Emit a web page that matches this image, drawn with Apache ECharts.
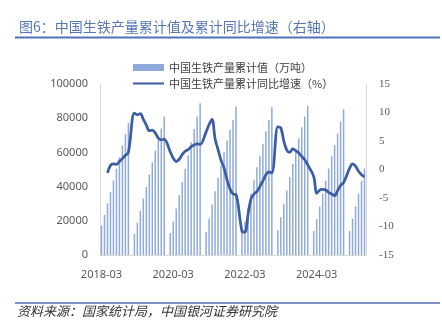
<!DOCTYPE html>
<html><head><meta charset="utf-8">
<script src="https://cdn.jsdelivr.net/npm/echarts@6/dist/echarts.min.js"></script>
<style>html,body{margin:0;padding:0;background:#fff}#c{width:442px;height:324px}</style>
</head><body><div id="c"></div>
<script>
// Categories: monthly, 2018-03 .. 2025-07 (January has no separate data)
const startYear = 2018, startMonth = 3, endYear = 2025, endMonth = 7;
const categories = [];
for (let y = startYear; y <= endYear; y++) {
  for (let m = (y === startYear ? startMonth : 1); m <= (y === endYear ? endMonth : 12); m++) {
    categories.push(y + '-' + (m < 10 ? '0' + m : m));
  }
}
const xTickLabels = ['2018-03', '2020-03', '2022-03', '2024-03'];

// 中国生铁产量累计值（万吨）
const output2018 = [17300, 23500, 30200, 36800, 43600, 50400, 57100, 64100, 70700, 77105]; // Mar-Dec
const output2019 = [null, 12300, 18900, 25800, 33000, 39800, 47000, 54300, 61100, 67200, 73900, 80937];
const output2020 = [null, 12900, 19600, 27200, 34900, 42700, 50400, 58200, 65900, 73700, 81000, 88752];
const output2021 = [null, 13600, 21400, 29600, 37300, 45000, 52400, 60100, 67000, 73200, 79000, 86857];
const output2022 = [null, 13400, 19600, 27600, 35900, 43700, 51300, 57800, 65000, 72400, 79000, 86383];
const output2023 = [null, 14500, 22100, 29800, 37700, 45600, 53200, 60900, 68100, 74700, 81000, 87101];
const output2024 = [null, 14000, 21000, 28300, 35700, 43400, 50600, 57700, 64300, 71000, 78100, 85174];
const output2025 = [null, 14000, 21200, 28500, 35900, 43500, 50600]; // Jan-Jul

// 中国生铁产量累计同比增速（%）
const growth2018 = [null, null, -0.6, 0.7, 1.0, 0.9, 1.4, 1.9, 2.5, 3.0]; // Mar-Dec
const growth2019 = [null, 9.9, 9.6, 9.8, 8.8, 7.8, 6.8, 6.9, 6.4, 5.5, 5.2, 5.3];
const growth2020 = [null, 3.1, 2.0, 1.4, 1.8, 2.6, 3.2, 3.5, 4.0, 4.3, 4.5, 4.4];
const growth2021 = [null, 6.6, 7.9, 8.8, 5.4, 3.5, 1.6, 0.3, -1.8, -3.4, -4.3, -4.4];
const growth2022 = [null, -10.8, -11.0, -8.0, -5.2, -4.3, -3.9, -3.0, -2.0, -0.9, -0.4, -0.6];
const growth2023 = [null, 7.5, 7.3, 5.0, 3.4, 3.0, 3.6, 3.3, 2.9, 2.3, 1.7, 0.8];
const growth2024 = [null, -1.2, -4.2, -3.6, -3.5, -3.6, -4.0, -4.3, -4.6, -3.7, -2.8, -2.3];
const growth2025 = [null, 0.2, 1.0, 0.6, -0.3, -0.9, -1.3]; // Jan-Jul

const outputCum = [].concat(output2018, output2019, output2020, output2021, output2022, output2023, output2024, output2025);
const growthCum = [].concat(growth2018, growth2019, growth2020, growth2021, growth2022, growth2023, growth2024, growth2025);

const chart = echarts.init(document.getElementById('c'), null, {renderer: 'canvas'});
const axisGrey = '#d9d9d9';
const labelGrey = '#595959';
const cjk = '"Noto Sans CJK SC", sans-serif';
chart.setOption({
  animation: false,
  backgroundColor: '#fff',
  title: {
    text: '图6：中国生铁产量累计值及累计同比增速（右轴）',
    left: 14, top: 15,
    textStyle: {fontSize: 14, fontWeight: 'normal', color: '#5677b5', fontFamily: cjk}
  },
  graphic: [
    {type: 'line', shape: {x1: 15, y1: 37.5, x2: 440, y2: 37.5}, style: {stroke: '#4f72b8', lineWidth: 2}},
    {type: 'line', shape: {x1: 15, y1: 303, x2: 440, y2: 303}, style: {stroke: '#4f72b8', lineWidth: 1.5}},
    {type: 'text', left: 17, top: 305, style: {text: '资料来源：国家统计局，中国银河证券研究院', fontSize: 13, fontStyle: 'italic', fill: '#333', fontFamily: cjk}}
  ],
  legend: {
    orient: 'vertical', left: 127, top: 57, itemWidth: 31, itemHeight: 7, itemGap: 5,
    textStyle: {fontSize: 11, color: '#404040', fontFamily: cjk},
    data: [
      {name: '中国生铁产量累计值（万吨）', icon: 'rect'},
      {name: '中国生铁产量累计同比增速（%）', itemStyle: {opacity: 0}}
    ]
  },
  grid: {left: 100, right: 76, top: 84, bottom: 69, containLabel: false},
  xAxis: {
    type: 'category', data: categories, boundaryGap: true,
    axisLine: {lineStyle: {color: axisGrey}},
    axisTick: {show: false},
    axisLabel: {
      interval: 23, margin: 14, fontSize: 11, color: labelGrey, fontFamily: '"Noto Sans", sans-serif',
      formatter: v => (xTickLabels.indexOf(v) >= 0 ? v : '')
    }
  },
  yAxis: [
    {type: 'value', min: 0, max: 100000, interval: 20000,
     axisLine: {show: true, lineStyle: {color: axisGrey}}, axisTick: {show: false}, splitLine: {show: false},
     axisLabel: {fontSize: 11, color: labelGrey, margin: 12, fontFamily: '"Noto Sans", sans-serif',
                 formatter: v => String(v)}},
    {type: 'value', min: -15, max: 15, interval: 5,
     axisLine: {show: true, lineStyle: {color: axisGrey}}, axisTick: {show: false}, splitLine: {show: false},
     axisLabel: {fontSize: 11, color: labelGrey, margin: 13, fontFamily: '"Liberation Serif", serif'}}
  ],
  series: [
    {name: '中国生铁产量累计值（万吨）', type: 'bar', data: outputCum, yAxisIndex: 0,
     barWidth: '50%', itemStyle: {color: '#8eaadb'}},
    {name: '中国生铁产量累计同比增速（%）', type: 'line', data: growthCum, yAxisIndex: 1,
     symbol: 'none', connectNulls: true, smooth: 0.35,
     lineStyle: {color: '#3a5da5', width: 2.75}, itemStyle: {color: '#3a5da5'}}
  ]
});
</script></body></html>
